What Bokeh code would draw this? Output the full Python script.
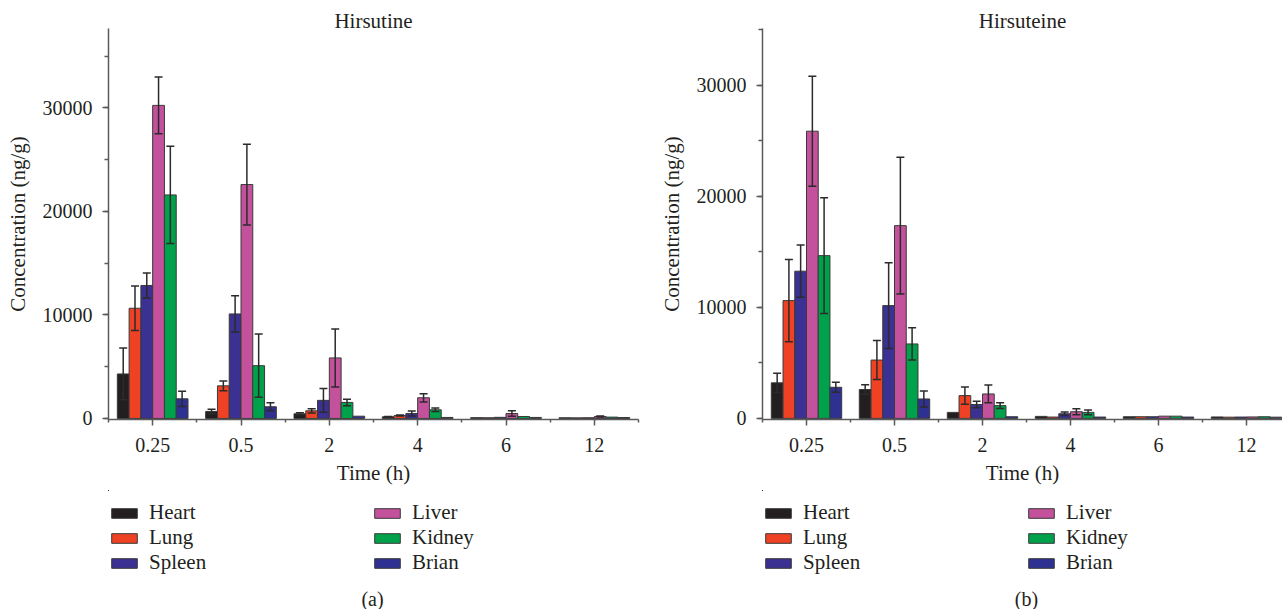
from bokeh.plotting import figure
from bokeh.models import (Range1d, FixedTicker, SingleIntervalTicker, ColumnDataSource,
                          Whisker, TeeHead, Legend, LegendItem, Label)
from bokeh.transform import dodge
from bokeh.layouts import row, column
from bokeh.embed import file_html
from bokeh.resources import INLINE

times = ["0.25", "0.5", "2", "4", "6", "12"]
organs = ["Heart", "Lung", "Spleen", "Liver", "Kidney", "Brian"]
organ_colors = ["#231f20", "#ef4123", "#3a3192", "#c4519c", "#00a14b", "#2e3192"]

# (a) Hirsutine: mean and error per organ
a_heart = [4300, 680, 450, 160, 80, 70]
a_heart_err = [2500, 220, 100, 40, 0, 0]
a_lung = [10650, 3150, 740, 290, 70, 60]
a_lung_err = [2150, 480, 200, 50, 0, 0]
a_spleen = [12850, 10100, 1750, 480, 110, 70]
a_spleen_err = [1200, 1750, 1150, 250, 0, 0]
a_liver = [30250, 22600, 5850, 2000, 480, 190]
a_liver_err = [2750, 3900, 2800, 400, 260, 40]
a_kidney = [21600, 5100, 1550, 840, 190, 130]
a_kidney_err = [4700, 3050, 310, 160, 0, 0]
a_brian = [1900, 1130, 220, 100, 100, 90]
a_brian_err = [740, 390, 0, 0, 0, 0]

# (b) Hirsuteine
b_heart = [3200, 2600, 540, 180, 150, 130]
b_heart_err = [870, 420, 0, 0, 0, 0]
b_lung = [10600, 5250, 2050, 120, 150, 110]
b_lung_err = [3700, 1750, 780, 0, 0, 0]
b_spleen = [13250, 10150, 1250, 420, 150, 120]
b_spleen_err = [2350, 3850, 300, 150, 0, 0]
b_liver = [25850, 17350, 2200, 600, 200, 130]
b_liver_err = [4950, 6150, 800, 270, 0, 0]
b_kidney = [14650, 6700, 1150, 540, 200, 150]
b_kidney_err = [5200, 1450, 250, 210, 0, 0]
b_brian = [2800, 1750, 150, 120, 120, 110]
b_brian_err = [450, 720, 0, 0, 0, 0]

FONT = "Liberation Serif"
TXT = "#231f20"
AXC = "#5a5a5a"
CHART_H = 490
LEG_H = 119


def make_panel(title, caption, means, errs, width, left, right, x_end, y_start, y_end):
    p = figure(width=width, height=CHART_H, x_range=Range1d(-0.5, x_end),
               y_range=Range1d(y_start, y_end), output_backend="svg",
               toolbar_location=None, min_border_left=left, min_border_right=right,
               min_border_top=28, min_border_bottom=71, title=title)
    p.outline_line_color = None
    p.grid.visible = False
    p.title.align = "center"
    p.title.text_font = FONT
    p.title.text_font_size = "21px"
    p.title.text_font_style = "normal"
    p.title.text_color = TXT
    try:
        p.title.standoff = -8
    except Exception:
        pass

    # companion figure holding the legend and the caption (its bars lie off-frame)
    q = figure(width=width, height=LEG_H, x_range=Range1d(99, 100),
               y_range=Range1d(-2, -1), output_backend="svg", toolbar_location=None,
               min_border_left=left, min_border_right=right, min_border_top=0,
               min_border_bottom=0, x_axis_location=None, y_axis_location=None)
    q.outline_line_color = None
    q.grid.visible = False

    n = len(organs)
    bw = 0.8 / n
    idx = list(range(len(times)))
    items = []
    for k, organ in enumerate(organs):
        off = (k - (n - 1) / 2) * bw
        src = ColumnDataSource(dict(x=idx, top=means[k]))
        p.vbar(x=dodge("x", off, range=p.x_range), top="top", bottom=0, width=bw,
               source=src, fill_color=organ_colors[k], line_color="#3a3a3a",
               line_width=1)
        rq = q.vbar(x="x", top="top", bottom=0, width=bw, source=src,
                    fill_color=organ_colors[k], line_color="#3a3a3a", line_width=1)
        items.append(LegendItem(label=organ, renderers=[rq]))
        keep = [i for i in idx if errs[k][i] > 0]
        wsrc = ColumnDataSource(dict(
            x=[idx[i] for i in keep],
            lower=[means[k][i] - errs[k][i] for i in keep],
            upper=[means[k][i] + errs[k][i] for i in keep]))
        w = Whisker(base=dodge("x", off, range=p.x_range), lower="lower", upper="upper",
                    source=wsrc, line_color="#2b2b2b", line_width=1.5, level="annotation",
                    upper_head=TeeHead(size=8, line_color="#2b2b2b", line_width=1.5),
                    lower_head=TeeHead(size=8, line_color="#2b2b2b", line_width=1.5))
        p.add_layout(w)

    # x axis
    xa = p.xaxis[0]
    xa.ticker = FixedTicker(ticks=idx, minor_ticks=[i - 0.5 for i in range(len(times) + 1)])
    xa.major_label_overrides = {i: t for i, t in enumerate(times)}
    xa.axis_label = "Time (h)"
    # y axis
    ya = p.yaxis[0]
    ya.ticker = SingleIntervalTicker(interval=10000, num_minor_ticks=2)
    ya.axis_label = "Concentration (ng/g)"
    for ax in (xa, ya):
        ax.axis_line_color = AXC
        ax.axis_line_width = 1.5
        ax.major_tick_line_color = AXC
        ax.minor_tick_line_color = AXC
        ax.major_tick_line_width = 1.5
        ax.minor_tick_line_width = 1.5
        ax.major_tick_in = 0
        ax.major_tick_out = 6
        ax.minor_tick_in = 0
        ax.major_label_text_font = FONT
        ax.major_label_text_font_size = "20px"
        ax.major_label_text_color = TXT
        ax.axis_label_text_font = FONT
        ax.axis_label_text_font_size = "21px"
        ax.axis_label_text_font_style = "normal"
        ax.axis_label_text_color = TXT
    xa.minor_tick_out = 3
    ya.minor_tick_out = 4
    xa.major_label_standoff = 12
    xa.axis_label_standoff = 6
    ya.major_label_standoff = 10
    ya.axis_label_standoff = 10

    leg = Legend(items=items, location=(0, 34), orientation="vertical", nrows=3,
                 glyph_width=32, glyph_height=12, label_standoff=9, label_width=222,
                 label_height=24, spacing=-2, margin=0, padding=0,
                 border_line_color=None, background_fill_alpha=0,
                 label_text_font=FONT, label_text_font_size="21px",
                 label_text_color=TXT)
    q.add_layout(leg, "center")

    cap = Label(x=264, y=11, x_units="screen", y_units="screen", text=caption,
                text_align="center", text_baseline="middle", text_font=FONT,
                text_font_size="20px", text_color=TXT)
    q.add_layout(cap)
    return column(p, q, spacing=0)


a_means = [a_heart, a_lung, a_spleen, a_liver, a_kidney, a_brian]
a_errs = [a_heart_err, a_lung_err, a_spleen_err, a_liver_err, a_kidney_err, a_brian_err]
b_means = [b_heart, b_lung, b_spleen, b_liver, b_kidney, b_brian]
b_errs = [b_heart_err, b_lung_err, b_spleen_err, b_liver_err, b_kidney_err, b_brian_err]

left_panel = make_panel("Hirsutine", "(a)", a_means, a_errs, 655, 108, 17, 5.5, -100, 37678)
right_panel = make_panel("Hirsuteine", "(b)", b_means, b_errs, 627, 107, 0, 5.409, -100, 35094)

layout = row(left_panel, right_panel, spacing=0)
open("out.html", "w").write(file_html(layout, INLINE))
